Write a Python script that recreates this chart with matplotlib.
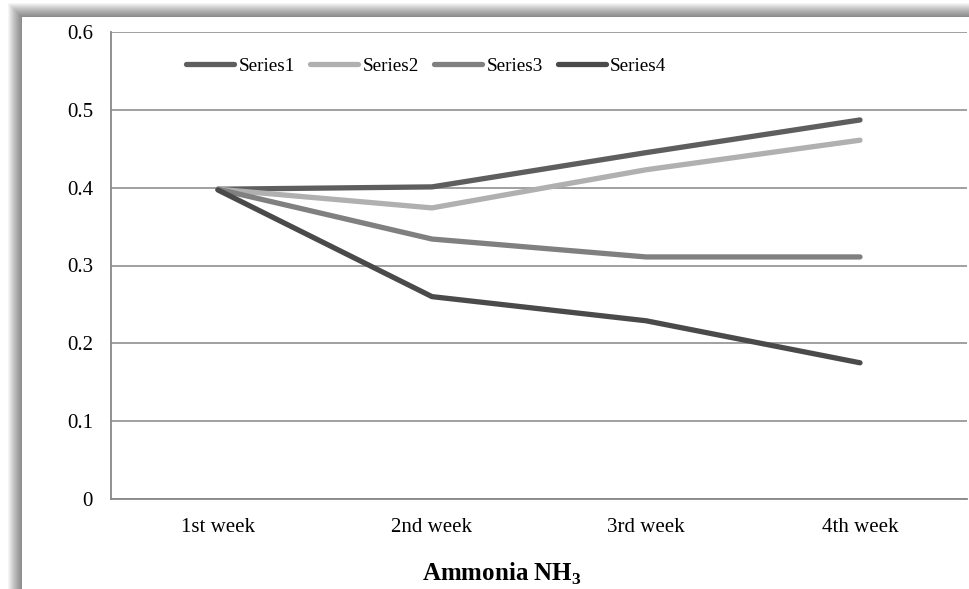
import matplotlib
matplotlib.use("Agg")
import matplotlib.pyplot as plt
from matplotlib.patches import Rectangle

categories = ["1st week", "2nd week", "3rd week", "4th week"]
series_names = ["Series1", "Series2", "Series3", "Series4"]
series1 = [0.398, 0.401, 0.445, 0.487]
series2 = [0.398, 0.374, 0.423, 0.461]
series3 = [0.398, 0.334, 0.311, 0.311]
series4 = [0.397, 0.260, 0.229, 0.175]
yticks = [0, 0.1, 0.2, 0.3, 0.4, 0.5, 0.6]
colors = ["#5e5e5e", "#b0b0b0", "#808080", "#4a4a4a"]

plt.rcParams['font.family'] = ['Liberation Serif', 'DejaVu Serif']
plt.rcParams['mathtext.fontset'] = 'custom'
plt.rcParams['mathtext.rm'] = 'Liberation Serif'
plt.rcParams['mathtext.bf'] = 'Liberation Serif:bold'

W, H = 970, 589
fig = plt.figure(figsize=(W / 100, H / 100), dpi=100)
fig.patch.set_facecolor("white")

# shadow frame
x0, y0 = 22 / W, 0
for i in range(14):
    off = (14 - i) / W
    offy = (14 - i) / H
    fig.patches.append(Rectangle((x0 - off, y0), 1.2, (H - 17) / H + offy,
                                 transform=fig.transFigure, facecolor="#000000",
                                 alpha=0.04, edgecolor="none", zorder=0))
fig.patches.append(Rectangle((x0, y0), 1.0, (H - 17) / H,
                             transform=fig.transFigure, facecolor="white",
                             edgecolor="none", zorder=1))

ax = fig.add_axes([111 / W, 1 - 499 / H, (967 - 111) / W, (499 - 32) / H])
ax.set_facecolor("none")
ax.set_zorder(2)

x = list(range(len(categories)))
for name, vals, c in zip(series_names, [series1, series2, series3, series4], colors):
    ax.plot(x, vals, color=c, lw=3.8, solid_capstyle="round", label=name, zorder=3)

ax.set_xlim(-0.5, len(categories) - 0.5)
ax.set_ylim(0, 0.6)
ax.set_yticks(yticks)
ax.set_yticklabels(["0", "0.1", "0.2", "0.3", "0.4", "0.5", "0.6"])
ax.set_xticks(x)
ax.set_xticklabels(categories)
ax.tick_params(axis="both", length=0, labelsize=15, colors="black")
ax.tick_params(axis="y", pad=13)
ax.tick_params(axis="x", pad=14)
ax.yaxis.grid(True, color="#999999", lw=1.3)
ax.set_axisbelow(True)
for s in ["top", "right"]:
    ax.spines[s].set_visible(False)
for s in ["left", "bottom"]:
    ax.spines[s].set_color("#888888")
    ax.spines[s].set_linewidth(1.3)

leg = ax.legend(loc="upper left", bbox_to_anchor=(0.068, 0.982), ncol=4, frameon=False,
                fontsize=13.8, handlelength=2.5, handletextpad=0.24, columnspacing=0.78)

fig.text(502 / W, 1 - 574 / H, r"Ammonia NH$_\mathbf{3}$", ha="center", va="center",
         fontsize=18, fontweight="bold")

fig.savefig("out.png", dpi=100)
